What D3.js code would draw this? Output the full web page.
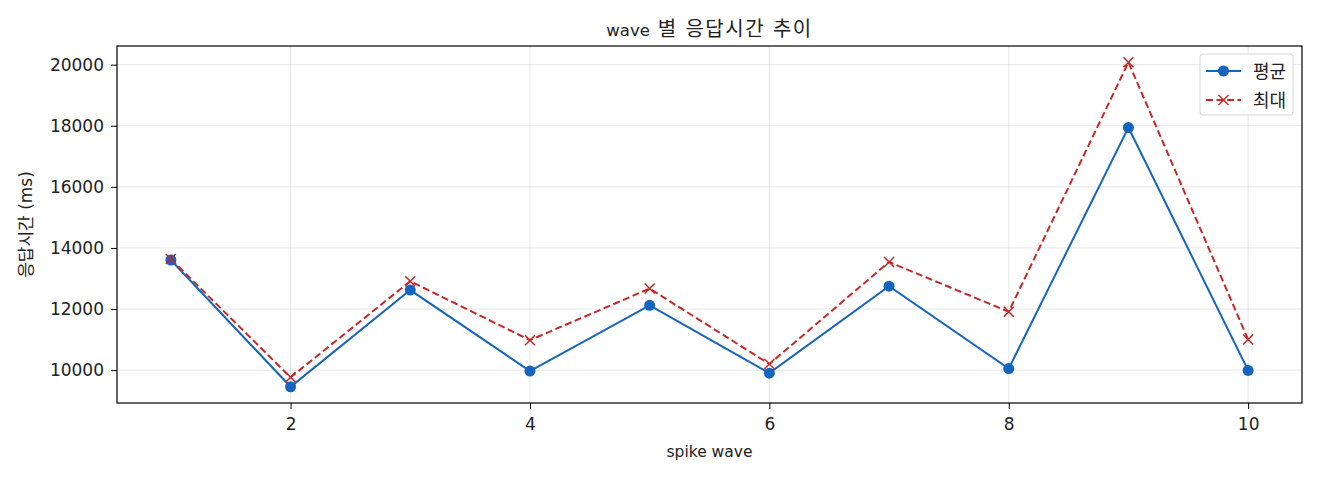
<!DOCTYPE html>
<html lang="ko">
<head>
<meta charset="utf-8">
<title>wave 별 응답시간 추이</title>
<script src="https://d3js.org/d3.v7.min.js"></script>
<style>
  body { margin: 0; background: #fff; }
  text { font-family: "DejaVu Sans", "Noto Sans CJK KR", sans-serif; fill: #222; }
</style>
</head>
<body>
<script>
// data
var waves = [1, 2, 3, 4, 5, 6, 7, 8, 9, 10];
var avgMs = [13605, 9455, 12620, 9970, 12120, 9900, 12750, 10050, 17940, 9990];
var maxMs = [13640, 9765, 12910, 10980, 12670, 10200, 13540, 11910, 20080, 11000];
var xTicks = [2, 4, 6, 8, 10];
var yTicks = [10000, 12000, 14000, 16000, 18000, 20000];
var seriesNames = ["평균", "최대"];

var w = 1320, h = 480;
var margin = { top: 46, right: 18, bottom: 77, left: 117 };
var iw = w - margin.left - margin.right;
var ih = h - margin.top - margin.bottom;

var svg = d3.select("body").append("svg")
  .attr("width", w).attr("height", h);

var g = svg.append("g")
  .attr("transform", "translate(" + margin.left + "," + margin.top + ")");

// matplotlib-like 5% margins
var lo = Math.min(d3.min(avgMs), d3.min(maxMs));
var hi = Math.max(d3.max(avgMs), d3.max(maxMs));
var pad = (hi - lo) * 0.05;

var x = d3.scaleLinear().domain([1 - 0.45, 10 + 0.45]).range([0, iw]);
var y = d3.scaleLinear().domain([lo - pad, hi + pad]).range([ih, 0]);

// grid
g.append("g").selectAll("line").data(xTicks).enter().append("line")
  .attr("x1", function(d) { return x(d); }).attr("x2", function(d) { return x(d); })
  .attr("y1", 0).attr("y2", ih)
  .attr("stroke", "#b0b0b0").attr("stroke-opacity", 0.3).attr("stroke-width", 1);
g.append("g").selectAll("line").data(yTicks).enter().append("line")
  .attr("x1", 0).attr("x2", iw)
  .attr("y1", function(d) { return y(d); }).attr("y2", function(d) { return y(d); })
  .attr("stroke", "#b0b0b0").attr("stroke-opacity", 0.3).attr("stroke-width", 1);

// axes
var xAxis = g.append("g").attr("transform", "translate(0," + ih + ")")
  .call(d3.axisBottom(x).tickValues(xTicks).tickSize(6).tickPadding(9).tickFormat(d3.format("d")));
var yAxis = g.append("g")
  .call(d3.axisLeft(y).tickValues(yTicks).tickSize(6).tickPadding(7).tickFormat(d3.format("d")));
[xAxis, yAxis].forEach(function(a) {
  a.select(".domain").remove();
  a.selectAll("line").attr("stroke", "#000").attr("stroke-width", 1);
  a.selectAll("text").style("font-size", "17px").attr("fill", "#222")
   .style("font-family", "'DejaVu Sans', sans-serif");
});

// frame
g.append("rect").attr("width", iw).attr("height", ih)
  .attr("fill", "none").attr("stroke", "#000").attr("stroke-width", 1.2);

// lines
var line = function(vals) {
  return d3.line().x(function(d, i) { return x(waves[i]); }).y(function(d) { return y(d); })(vals);
};

g.append("path").attr("d", line(avgMs))
  .attr("fill", "none").attr("stroke", "#1565c0").attr("stroke-width", 2);
g.append("g").selectAll("circle").data(avgMs).enter().append("circle")
  .attr("cx", function(d, i) { return x(waves[i]); })
  .attr("cy", function(d) { return y(d); })
  .attr("r", 5.5).attr("fill", "#1565c0");

g.append("path").attr("d", line(maxMs))
  .attr("fill", "none").attr("stroke", "#c62828").attr("stroke-width", 2)
  .attr("stroke-dasharray", "7,3.5");
var cross = "M-5,-5L5,5M-5,5L5,-5";
g.append("g").selectAll("path").data(maxMs).enter().append("path")
  .attr("transform", function(d, i) { return "translate(" + x(waves[i]) + "," + y(d) + ")"; })
  .attr("d", cross).attr("stroke", "#c62828").attr("stroke-width", 1.5).attr("fill", "none");

// title & labels
var title = svg.append("text").attr("x", margin.left + iw / 2).attr("y", 36)
  .attr("text-anchor", "middle");
title.append("tspan").style("font-size", "16.5px").text("wave");
title.append("tspan").style("font-size", "20px").style("letter-spacing", "1.5px").text(" 별 응답시간 추이");

svg.append("text").attr("x", margin.left + iw / 2).attr("y", 457)
  .attr("text-anchor", "middle").style("font-size", "15.5px").text("spike wave");
svg.append("text")
  .attr("transform", "translate(32," + (margin.top + ih / 2) + ") rotate(-90)")
  .attr("text-anchor", "middle").style("font-size", "17px").text("응답시간 (ms)");

// legend
var lg = svg.append("g").attr("transform", "translate(1200,54)");
lg.append("rect").attr("width", 93).attr("height", 61).attr("rx", 3)
  .attr("fill", "#fff").attr("fill-opacity", 0.8).attr("stroke", "#d6d6d6");
var rows = lg.selectAll("g.row").data(seriesNames).enter().append("g")
  .attr("transform", function(d, i) { return "translate(0," + (17 + i * 29) + ")"; });
rows.append("line").attr("x1", 6).attr("x2", 41).attr("y1", 0).attr("y2", 0)
  .attr("stroke", function(d, i) { return i === 0 ? "#1565c0" : "#c62828"; })
  .attr("stroke-width", 2)
  .attr("stroke-dasharray", function(d, i) { return i === 0 ? null : "7,3.5"; });
rows.filter(function(d, i) { return i === 0; }).append("circle")
  .attr("cx", 23.5).attr("cy", 0).attr("r", 5.5).attr("fill", "#1565c0");
rows.filter(function(d, i) { return i === 1; }).append("path")
  .attr("transform", "translate(23.5,0)").attr("d", cross)
  .attr("stroke", "#c62828").attr("stroke-width", 1.5);
rows.append("text").attr("x", 53).attr("y", 6.5).style("font-size", "18px").text(function(d) { return d; });
</script>
</body>
</html>
